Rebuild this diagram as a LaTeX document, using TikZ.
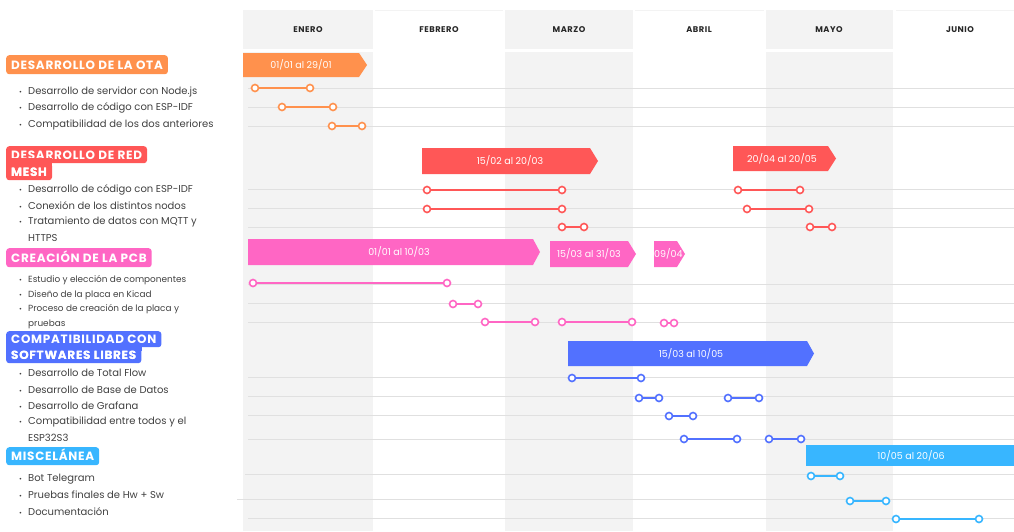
\documentclass[tikz,border=0pt]{standalone}
\usepackage{fontspec}
\setmainfont{Poppins}
\definecolor{cOr}{HTML}{FF914D}
\definecolor{cRd}{HTML}{FF5757}
\definecolor{cPk}{HTML}{FF66C4}
\definecolor{cBl}{HTML}{5271FF}
\definecolor{cCy}{HTML}{38B6FF}
\definecolor{colshade}{HTML}{F3F3F3}
\definecolor{gridc}{HTML}{E0E0E0}
\definecolor{txtc}{HTML}{404040}
\newcommand\tsk[5]{%
  \node[dot,draw=#1] (#2a) at (#3,#5) {};
  \node[dot,draw=#1] (#2b) at (#4,#5) {};
  \draw[seg,#1] (#2a) -- (#2b);}
\newcommand\bul{\makebox[9pt][l]{\fontsize{7}{7}\selectfont\textbullet}}
\newcommand\tagfont{\fontsize{12}{12}\selectfont\bfseries\addfontfeatures{LetterSpace=6}}
\begin{document}
\begin{tikzpicture}[x=1pt,y=-1pt,
  hdr/.style={font=\fontsize{8.3}{9}\selectfont\bfseries\addfontfeatures{LetterSpace=6}, text=black!85},
  dot/.style={circle, line width=1.6pt, fill=white, minimum size=7pt, inner sep=0pt},
  seg/.style={line width=1.8pt},
  gline/.style={draw=gridc, line width=0.9pt},
  bartext/.style={text=white, font=\fontsize{9.5}{10}\selectfont},
  tagtxt/.style={anchor=north west, text=white, font=\tagfont, inner xsep=5pt, inner ysep=0pt,
    text height=8.6pt, text depth=0pt},
  tag/.style={tagtxt, fill=#1, rounded corners=3pt},
  item/.style={anchor=west, inner sep=0pt, text=txtc, font=\fontsize{10}{11}\selectfont},
  itemS/.style={anchor=west, inner sep=0pt, text=txtc, font=\fontsize{8.9}{10}\selectfont}]
\useasboundingbox (0,0) rectangle (1014,531);
% columns
\fill[colshade] (243,10) rectangle (373,49);
\fill[colshade] (243,52) rectangle (373,531);
\fill[colshade] (505,10) rectangle (633,49);
\fill[colshade] (505,52) rectangle (633,531);
\fill[colshade] (766,10) rectangle (893,49);
\fill[colshade] (766,52) rectangle (893,531);
\draw[colshade, line width=0.8pt] (375,10.4) -- (503,10.4) (635,10.4) -- (764,10.4) (896,10.4) -- (1014,10.4);
\node[hdr] (mEne) at (308,30) {ENERO};
\node[hdr] (mFeb) at (439,30) {FEBRERO};
\node[hdr] (mMar) at (569,30) {MARZO};
\node[hdr] (mAbr) at (699,30) {ABRIL};
\node[hdr] (mMay) at (829,30) {MAYO};
\node[hdr] (mJun) at (960,30) {JUNIO};
% grid lines
\foreach \yy in {88,107,126,189,208,227,284,303,322,377,396,415,439,518}
  \draw[gline] (248,\yy) -- (1014,\yy);
\draw[gline] (245,474) -- (1014,474);
\draw[gline] (237,499) -- (1014,499);
% bars
\fill[cOr] (243,53) -- (359,53) -- (367,65) -- (359,77) -- (243,77) -- cycle;
\node[bartext] (bOTA) at (301,65) {01/01 al 29/01};
\fill[cRd] (422,148) -- (590,148) -- (598,161) -- (590,174) -- (422,174) -- cycle;
\node[bartext] (bRd1) at (510,161) {15/02 al 20/03};
\fill[cRd] (733,146) -- (828,146) -- (836,158.5) -- (828,171) -- (733,171) -- cycle;
\node[bartext] (bRd2) at (782,158.5) {20/04 al 20/05};
\fill[cPk] (248,239) -- (533,239) -- (540,252) -- (533,265) -- (248,265) -- cycle;
\node[bartext] (bPk1) at (399,252) {01/01 al 10/03};
\fill[cPk] (550,241) -- (628,241) -- (636,254) -- (628,267) -- (550,267) -- cycle;
\node[bartext] (bPk2) at (589,254) {15/03 al 31/03};
\fill[cPk] (654,241) -- (677,241) -- (685,254) -- (677,267) -- (654,267) -- cycle;
\node[bartext, anchor=west, inner sep=0pt] (bPk3) at (654,254) {09/04};
\fill[cBl] (568,341) -- (807,341) -- (814,353.5) -- (807,366) -- (568,366) -- cycle;
\node[bartext] (bBl) at (691,353.5) {15/03 al 10/05};
\fill[cCy] (806,445) rectangle (1014,466);
\node[bartext] (bCy) at (911,455.5) {10/05 al 20/06};
% tasks
\tsk{cOr}{o1}{255}{310}{88}
\tsk{cOr}{o2}{282}{333}{107}
\tsk{cOr}{o3}{332}{362}{126}
\tsk{cRd}{r1}{427}{562}{190}
\tsk{cRd}{r2}{738}{800}{190}
\tsk{cRd}{r3}{427}{562}{209}
\tsk{cRd}{r4}{747}{809}{209}
\tsk{cRd}{r5}{562}{584}{227}
\tsk{cRd}{r6}{810}{832}{227}
\tsk{cPk}{p1}{253}{447}{283}
\tsk{cPk}{p2}{453}{478}{304}
\tsk{cPk}{p3}{485}{535}{322}
\tsk{cPk}{p4}{562}{632}{322}
\tsk{cPk}{p5}{664}{674}{323}
\tsk{cBl}{u1}{572}{641}{378}
\tsk{cBl}{u2}{639}{659}{398}
\tsk{cBl}{u3}{728}{759}{398}
\tsk{cBl}{u4}{669}{693}{416}
\tsk{cBl}{u5}{684}{737}{439}
\tsk{cBl}{u6}{769}{801}{439}
\tsk{cCy}{c1}{811}{840}{476}
\tsk{cCy}{c2}{850}{886}{501}
\tsk{cCy}{c3}{896}{979}{519}
% left side tags
\node[tag=cOr, minimum height=19pt] (tOta) at (6,55) {DESARROLLO DE LA OTA};
\node[tag=cRd, minimum height=17pt] (tRd1) at (6,146) {DESARROLLO DE RED};
\node[tag=cRd, minimum height=17pt] (tRd2) at (6,163) {MESH};
\fill[cRd] (6,158) rectangle (tRd2.east |- 0,167);
\node[tagtxt, minimum height=17pt] (tRd2t) at (6,163) {MESH};
\node[tag=cPk, minimum height=19pt] (tPk) at (6,248) {CREACIÓN DE LA PCB};
\node[tag=cBl, minimum height=16pt] (tBl1) at (6,331) {COMPATIBILIDAD CON};
\node[tag=cBl, minimum height=16pt] (tBl2) at (6,347) {SOFTWARES LIBRES};
\fill[cBl] (6,343) rectangle (tBl2.east |- 0,351);
\node[tagtxt, minimum height=16pt] (tBl2t) at (6,347) {SOFTWARES LIBRES};
\node[tag=cCy, minimum height=18pt] (tCy) at (6,447) {MISCELÁNEA};
% items
\node[item] (i1) at (19,92) {\bul Desarrollo de servidor con Node.js};
\node[item] (i2) at (19,108) {\bul Desarrollo de código con ESP-IDF};
\node[item] (i3) at (19,125) {\bul Compatibilidad de los dos anteriores};
\node[item] (i4) at (19,190) {\bul Desarrollo de código con ESP-IDF};
\node[item] (i5) at (19,206) {\bul Conexión de los distintos nodos};
\node[item] (i6) at (19,222) {\bul Tratamiento de datos con MQTT y};
\node[item] (i6b) at (28,238) {HTTPS};
\node[itemS] (i7) at (19,280) {\bul Estudio y elección de componentes};
\node[itemS] (i8) at (19,295) {\bul Diseño de la placa en Kicad};
\node[itemS] (i9) at (19,309) {\bul Proceso de creación de la placa y};
\node[itemS] (i9b) at (28,324) {pruebas};
\node[item] (i10) at (19,373) {\bul Desarrollo de Total Flow};
\node[item] (i11) at (19,390) {\bul Desarrollo de Base de Datos};
\node[item] (i12) at (19,406) {\bul Desarrollo de Grafana};
\node[item] (i13) at (19,422) {\bul Compatibilidad entre todos y el};
\node[item] (i13b) at (28,438) {ESP32S3};
\node[item] (i14) at (19,479) {\bul Bot Telegram};
\node[item] (i15) at (19,495) {\bul Pruebas finales de Hw + Sw};
\node[item] (i16) at (19,512) {\bul Documentación};
\end{tikzpicture}
\end{document}
